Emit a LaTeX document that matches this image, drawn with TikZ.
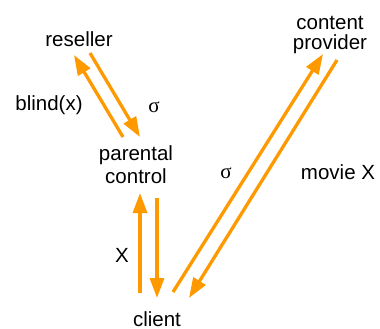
\documentclass[tikz,border=0pt]{standalone}
\usepackage{fontspec}
\setmainfont{Liberation Sans}
\newfontfamily\greekserif{Liberation Serif}
\usetikzlibrary{arrows.meta}
\definecolor{arroworange}{RGB}{255,153,0}
\begin{document}
\begin{tikzpicture}[x=1pt,y=-1pt,
  lbl/.style={inner sep=0pt, anchor=base, font=\fontsize{20.5}{22}\selectfont},
  sig/.style={inner sep=0pt, anchor=base, font=\greekserif\fontsize{21}{22}\selectfont},
  msg/.style={draw=arroworange, line width=3.3pt, -{Triangle[length=20pt,width=14pt]}}]
\useasboundingbox (0,0) rectangle (380,329);
% parties
\node[lbl] (reseller) at (79,47) {reseller};
\node[lbl, align=center, font=\fontsize{20.5}{23}\selectfont] (parental) at (136,183) {parental\\control};
\node[lbl] (client) at (157,326) {client};
\node[lbl, align=center, font=\fontsize{20.5}{20.5}\selectfont] (provider) at (330,50) {content\\provider};
% message labels
\node[lbl] (lblind) at (49,110) {blind(x)};
\node[sig] (lsigone) at (154,112) {σ};
\node[lbl] (lx) at (122,262) {X};
\node[sig] (lsigtwo) at (226,178) {σ};
\node[lbl] (lmovie) at (338,179) {movie X};
% arrow ends
\coordinate (pcUp) at (123,137);
\coordinate (reUp) at (74,55);
\coordinate (reDown) at (90,53);
\coordinate (pcDown) at (140,137);
\coordinate (clUp) at (140,293);
\coordinate (pcUpTip) at (140,193);
\coordinate (pcDownStart) at (157,198);
\coordinate (clDown) at (157,298);
\coordinate (clDiag) at (173,292);
\coordinate (cpTip) at (323,54);
\coordinate (cpStart) at (337,60);
\coordinate (clDiagTip) at (189,298);
% messages
\draw[msg] (pcUp) -- (reUp);
\draw[msg] (reDown) -- (pcDown);
\draw[msg] (clUp) -- (pcUpTip);
\draw[msg] (pcDownStart) -- (clDown);
\draw[msg] (clDiag) -- (cpTip);
\draw[msg] (cpStart) -- (clDiagTip);
\end{tikzpicture}
\end{document}
